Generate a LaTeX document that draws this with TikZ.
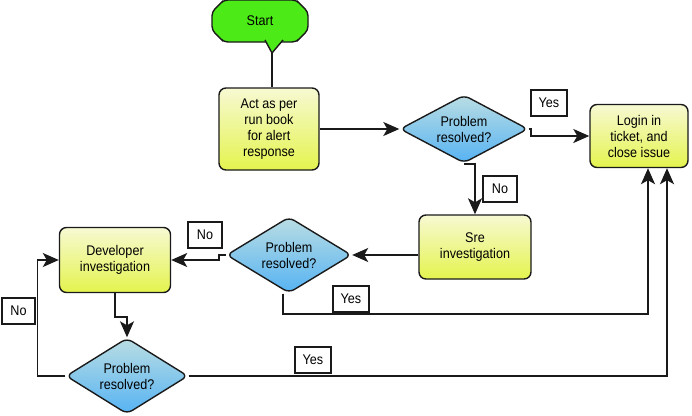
\documentclass[tikz,border=0pt]{standalone}
\usepackage{fontspec}
\setmainfont{Liberation Sans}[FakeStretch=0.9]
\usepackage{tikz}
\usetikzlibrary{positioning, arrows.meta, shapes.geometric, shapes.misc}
\definecolor{startgreen}{HTML}{4CEB18}
\definecolor{boxtop}{HTML}{F7F9D2}
\definecolor{boxbot}{HTML}{E4F44E}
\definecolor{dectop}{HTML}{BADDE3}
\definecolor{decbot}{HTML}{56B3F3}
\definecolor{ink}{HTML}{1A1A1A}

\begin{document}
\begin{tikzpicture}[x=1pt, y=-1pt,
      startbox/.style={chamfered rectangle, chamfered rectangle xsep=12pt,
        draw=ink, line width=1.4pt, fill=startgreen, rounded corners=4pt,
        minimum width=96pt, minimum height=42pt, font=\fontsize{14}{16}\selectfont},
      procbox/.style={rectangle, rounded corners=7pt, draw=ink, line width=1.4pt,
        top color=boxtop, bottom color=boxbot, align=center, inner sep=2pt,
        font=\fontsize{14}{16}\selectfont},
      decision/.style={diamond, aspect=2, rounded corners=6pt, draw=ink, line width=1.4pt,
        top color=dectop, bottom color=decbot, align=center, inner sep=0pt,
        minimum width=126pt, minimum height=72pt, font=\fontsize{14}{16}\selectfont},
      tag/.style={rectangle, draw=ink, line width=1.6pt, fill=white,
        minimum width=36pt, minimum height=26pt, inner sep=1pt,
        font=\fontsize{14}{16}\selectfont},
      wire/.style={line width=1.6pt, draw=ink},
      arrow/.style={-{Stealth[length=16pt, width=14pt, inset=4pt]}, line width=1.6pt, draw=ink}]

    \useasboundingbox (0,0) rectangle (692,415);

    \node[startbox] (start) at (260,21) {Start};
    \node[procbox, minimum width=100pt, minimum height=82pt] (act) at (269,129)
      {Act as per\\run book\\for alert\\response};
    \node[decision, minimum width=128pt, minimum height=68pt] (d1) at (464,129)
      {Problem\\resolved?};
    \node[procbox, minimum width=98pt, minimum height=63pt] (login) at (639,136)
      {Login in\\ticket, and\\close issue};
    \node[procbox, minimum width=112pt, minimum height=64pt] (sre) at (475,247)
      {Sre\\investigation};
    \node[decision, minimum width=125pt, minimum height=76pt] (d2) at (289,255)
      {Problem\\resolved?};
    \node[procbox, minimum width=111pt, minimum height=65pt] (dev) at (115,260)
      {Developer\\investigation};
    \node[decision, minimum width=122pt, minimum height=76pt] (d3) at (127,376)
      {Problem\\resolved?};

    \node[tag] (yes1) at (549,103) {Yes};
    \node[tag, minimum width=34pt] (no1) at (500,189) {No};
    \node[tag, minimum width=34pt] (no2) at (205,235) {No};
    \node[tag, minimum width=33pt] (no3) at (18.5,311) {No};
    \node[tag] (yes3) at (313,360) {Yes};

    \coordinate (tip) at (272,53);
    \filldraw[fill=startgreen, draw=ink, line width=1.4pt]
      (265,40) -- (tip) -- (283,40);
    \draw[wire] (tip) -- (tip |- act.north);

    \draw[arrow] (act.east) -- (d1.west);
    \draw[arrow] (d1.east) -- ++(2,0) |- (login.west);
    \draw[arrow] (d1.south) -| (sre.north);
    \draw[arrow] (d2.east -| sre.west) -- (d2.east);
    \draw[arrow] (d2.west) -- ++(-7,0) |- (dev.east);
    \draw[arrow] ([xshift=-6pt]d2.south) -- ++(0,20) -| ([xshift=9pt]login.south);
    \draw[arrow] (dev.south) -- ++(0,24) -| (d3.north);
    \draw[arrow] (d3.west) -- ++(-28,0) |- (dev.west);
    \draw[arrow] (d3.east) -| ([xshift=28pt]login.south);

    \node[tag] (yes2) at (351,299) {Yes};
  \end{tikzpicture}
\end{document}
